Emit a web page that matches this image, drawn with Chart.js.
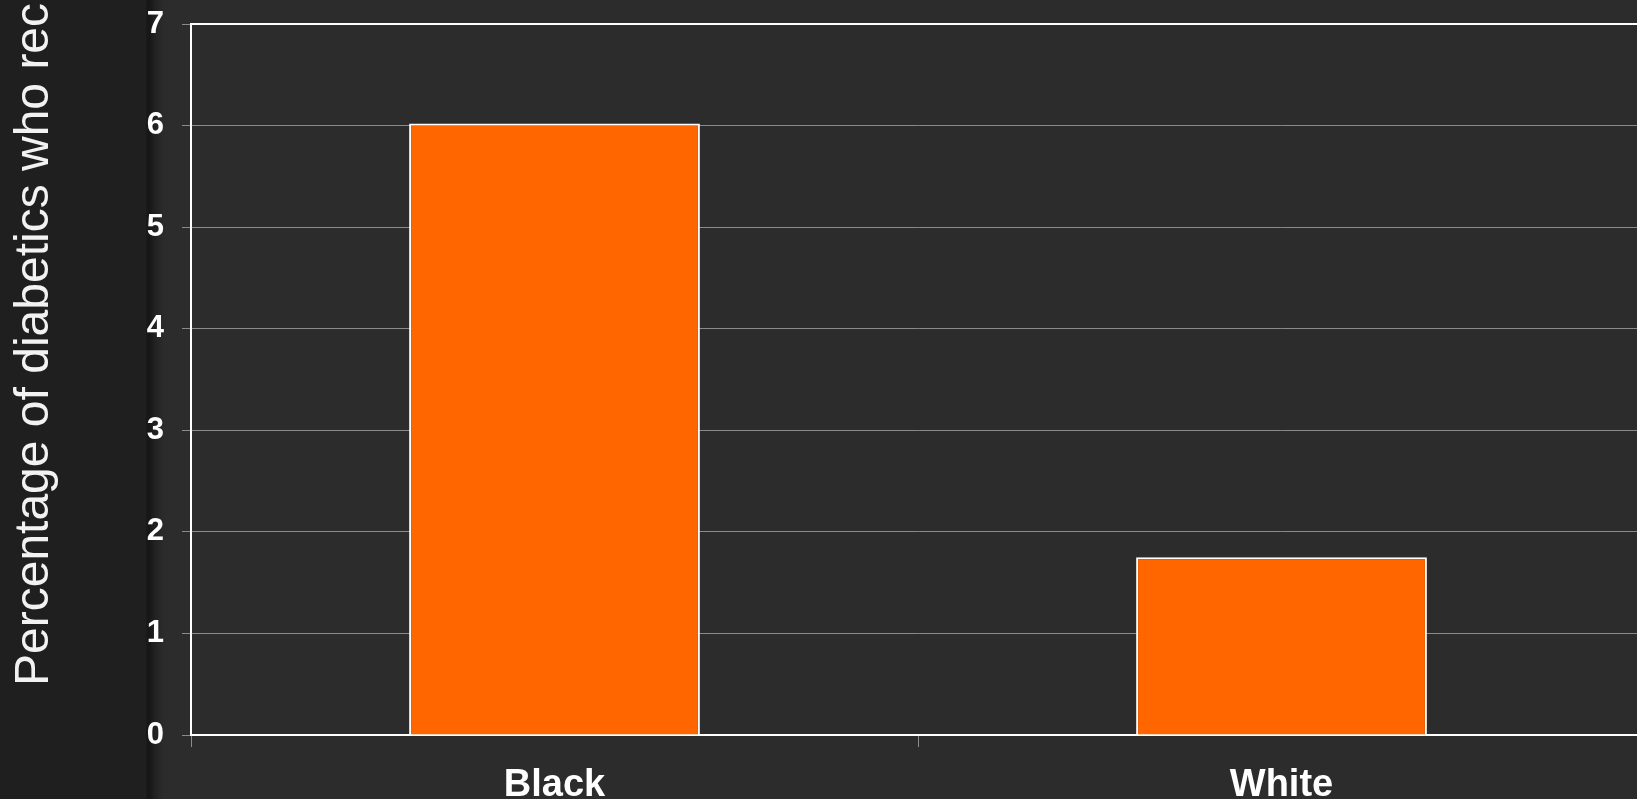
<!DOCTYPE html>
<html>
<head>
<meta charset="utf-8">
<script src="https://cdn.jsdelivr.net/npm/chart.js@4/dist/chart.umd.min.js"></script>
<style>
  html, body { margin: 0; padding: 0; background: #2b2b2b; overflow: hidden; }
  #wrap { width: 1637px; height: 799px; position: relative; overflow: hidden; }
  #chart { display: block; }
</style>
</head>
<body>
<div id="wrap"><canvas id="chart" width="1645" height="799"></canvas></div>
<script>
// Data
const categories = ['Black', 'White'];
const percentages = [6.02, 1.75];
const yAxisTitle = 'Percentage of diabetics who rec';
const yMin = 0;
const yMax = 7;
const yStep = 1;

const FONT = "'Liberation Sans', Arial, Helvetica, sans-serif";

// Slide-style backdrop: darker strip on the left with a soft shadow edge
const backdrop = {
  id: 'backdrop',
  beforeDraw(chart) {
    const { ctx, width, height } = chart;
    ctx.save();
    ctx.fillStyle = '#2c2c2c';
    ctx.fillRect(0, 0, width, height);
    ctx.fillStyle = '#1f1f1f';
    ctx.fillRect(0, 0, 148, height);
    const g = ctx.createLinearGradient(146, 0, 168, 0);
    g.addColorStop(0, '#1a1a1a');
    g.addColorStop(0.15, '#161616');
    g.addColorStop(1, 'rgba(44,44,44,0)');
    ctx.fillStyle = g;
    ctx.fillRect(146, 0, 22, height);
    ctx.restore();
  }
};

// Vertical axis title running up the left strip
const sideTitle = {
  id: 'sideTitle',
  afterDraw(chart) {
    const { ctx } = chart;
    ctx.save();
    ctx.translate(48, 686);
    ctx.rotate(-Math.PI / 2);
    ctx.fillStyle = '#f2f2f2';
    ctx.font = '48px ' + FONT;
    ctx.textAlign = 'left';
    ctx.textBaseline = 'alphabetic';
    ctx.fillText(yAxisTitle, 0, 0);
    ctx.restore();
  }
};

// White frame line along the top of the plot area
const topFrame = {
  id: 'topFrame',
  afterDatasetsDraw(chart) {
    const { ctx, chartArea } = chart;
    const y = chart.scales.y.getPixelForValue(yMax);
    ctx.save();
    ctx.strokeStyle = '#ffffff';
    ctx.lineWidth = 2;
    ctx.beginPath();
    ctx.moveTo(chartArea.left, y);
    ctx.lineTo(chartArea.right, y);
    ctx.stroke();
    ctx.restore();
  }
};

new Chart(document.getElementById('chart'), {
  type: 'bar',
  data: {
    labels: categories,
    datasets: [{
      data: percentages,
      backgroundColor: '#ff6600',
      borderColor: '#ffffff',
      borderWidth: 2,
      barPercentage: 0.4,
      categoryPercentage: 1.0
    }]
  },
  options: {
    responsive: false,
    animation: false,
    layout: { padding: { top: 24, left: 0, right: 0, bottom: 0 } },
    plugins: {
      legend: { display: false },
      tooltip: { enabled: false },
      title: { display: false }
    },
    scales: {
      x: {
        offset: true,
        grid: {
          offset: true,
          drawOnChartArea: false,
          drawTicks: true,
          tickLength: 12,
          tickColor: '#8c8c8c',
          tickWidth: 1
        },
        border: { color: '#ffffff', width: 2 },
        ticks: {
          color: '#ffffff',
          padding: 16,
          font: { family: FONT, size: 38, weight: 'bold' }
        },
        afterFit(scale) {
          scale.height = 64;
          scale.paddingLeft = 0;
          scale.paddingRight = 0;
        }
      },
      y: {
        min: yMin,
        max: yMax,
        grid: {
          color: '#8a8a8a',
          lineWidth: 1,
          drawTicks: true,
          tickLength: 9,
          tickColor: '#8a8a8a'
        },
        border: { color: '#ffffff', width: 2 },
        ticks: {
          stepSize: yStep,
          color: '#ffffff',
          padding: 18,
          font: { family: FONT, size: 31, weight: 'bold' }
        },
        afterFit(scale) {
          scale.width = 191;
          scale.paddingTop = 0;
          scale.paddingBottom = 0;
        }
      }
    }
  },
  plugins: [backdrop, sideTitle, topFrame]
});
</script>
</body>
</html>
